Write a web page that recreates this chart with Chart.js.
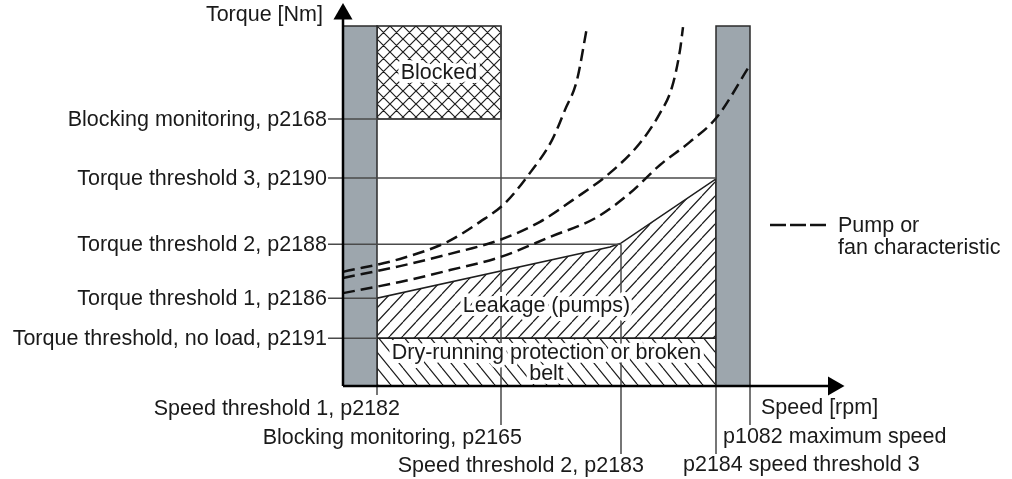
<!DOCTYPE html>
<html>
<head>
<meta charset="utf-8">
<script src="https://cdn.jsdelivr.net/npm/chart.js@4.4.1/dist/chart.umd.min.js"></script>
<style>
  html, body { margin: 0; padding: 0; background: #fff; }
  #wrap { width: 1012px; height: 479px; position: relative; }
</style>
</head>
<body>
<div id="wrap"><canvas id="chart"></canvas></div>
<script>
// speed: 0 = origin, ~100 = arrow tip; torque: 0 = origin, 100 = top of the limit bars
var speedLabels = ['Speed threshold 1, p2182', 'Blocking monitoring, p2165', 'Speed threshold 2, p2183',
                   'p2184 speed threshold 3', 'p1082 maximum speed'];
var speedValues = [6.8, 31.6, 55.6, 74.6, 81.4];

var torqueLabels = ['Blocking monitoring, p2168', 'Torque threshold 3, p2190', 'Torque threshold 2, p2188',
                    'Torque threshold 1, p2186', 'Torque threshold, no load, p2191'];
var torqueValues = [74.2, 57.8, 39.4, 24.4, 13.3];

var axisTitles = ['Torque [Nm]', 'Speed [rpm]'];
var regionLabels = ['Blocked', 'Leakage (pumps)', 'Dry-running protection or broken', 'belt'];
var legendLabels = ['Pump or', 'fan characteristic'];

// pump / fan characteristics
var pump1Speed  = [0, 11.4, 20.8, 27.4, 32.4, 37.4, 41.8, 44.4, 46.8, 48.8];
var pump1Torque = [31.7, 35.3, 40, 45.6, 50.8, 59.2, 68.3, 76.7, 85, 99.7];
var pump2Speed  = [0, 11.4, 21.4, 31.4, 39.4, 46, 53.4, 59.4, 63.4, 65.8, 67.4, 68];
var pump2Torque = [30, 33.3, 36.7, 40.6, 45.6, 51.7, 59.2, 67.5, 75.8, 83, 93.3, 99.7];
var pump3Speed  = [0, 11.4, 21.4, 31.4, 41.4, 50.8, 57.4, 63.4, 69.4, 74.8, 81.4];
var pump3Torque = [25.8, 28.9, 32.2, 35.8, 41.4, 46.9, 53.6, 61.4, 67.8, 74.7, 89.2];

// upper edge of the leakage area
var leakageSpeed  = [6.8, 53.4, 55.6, 74.6];
var leakageTorque = [24.4, 38.6, 39.7, 57.5];

var st1 = speedValues[0], blk = speedValues[1], st2 = speedValues[2], st3 = speedValues[3], vmax = speedValues[4];
var tBlk = torqueValues[0], t3 = torqueValues[1], t2 = torqueValues[2], t1 = torqueValues[3], t0 = torqueValues[4];
var tMax = 100;

function pts(xs, ys) {
  return xs.map(function (v, i) { return { x: v, y: ys[i] }; });
}

function hatch(w, h, dirs) {
  var c = document.createElement('canvas');
  c.width = w; c.height = h;
  var g = c.getContext('2d');
  g.strokeStyle = '#1e1e1e';
  g.lineWidth = 1.2;
  g.beginPath();
  dirs.forEach(function (d) {
    for (var k = -1; k <= 1; k++) {
      if (d === '/') { g.moveTo(k * w, h); g.lineTo(k * w + w, 0); }
      else { g.moveTo(k * w, 0); g.lineTo(k * w + w, h); }
    }
  });
  g.stroke();
  return g.createPattern(c, 'repeat');
}

function line(points, color, width, order, more) {
  var d = { data: points, borderColor: color, borderWidth: width, fill: false, tension: 0,
            pointRadius: 0, order: order };
  for (var k in more) d[k] = more[k];
  return d;
}

var grey = '#9da6ad', dark = '#1e1e1e', thin = '#4a4a4a';
var datasets = [];

// hatched areas
datasets.push(line(pts([st1, blk, blk, st1, st1], [tBlk, tBlk, tMax, tMax, tBlk]), dark, 1.5, 6,
  { fill: 'shape', backgroundColor: hatch(13, 13, ['/', '\\']) }));
datasets.push(line(pts([st1].concat(leakageSpeed, [st3, st1]), [t0].concat(leakageTorque, [t0, t0])), dark, 1.5, 6,
  { fill: 'shape', backgroundColor: hatch(13, 14, ['/']) }));
datasets.push(line(pts([st1, st3, st3, st1, st1], [0, 0, t0, t0, 0]), dark, 1.5, 6,
  { fill: 'shape', backgroundColor: hatch(13, 16, ['\\']) }));

// limit bars
datasets.push(line(pts([0, st1, st1, 0, 0], [0, 0, tMax, tMax, 0]), '#2b2b2b', 1.5, 5,
  { fill: 'shape', backgroundColor: grey }));
datasets.push(line(pts([st3, vmax, vmax, st3, st3], [0, 0, tMax, tMax, 0]), '#2b2b2b', 1.5, 5,
  { fill: 'shape', backgroundColor: grey }));

// threshold lines
var torqueEnds = [blk, st3, st2, st1, st1];
torqueValues.forEach(function (v, i) {
  datasets.push(line(pts([-3, torqueEnds[i]], [v, v]), thin, 1.5, 4));
});
var speedFrom = [0, tMax, t2, 0, 0];
var speedTo = [-2.5, -10.8, -18.9, -18.9, -10.8];
speedValues.forEach(function (v, i) {
  datasets.push(line(pts([v, v], [speedFrom[i], speedTo[i]]), thin, 1.5, 4));
});

// pump characteristics
[[pump1Speed, pump1Torque], [pump2Speed, pump2Torque], [pump3Speed, pump3Torque]].forEach(function (c) {
  datasets.push(line(pts(c[0], c[1]), '#111', 2.5, 3,
    { borderDash: [12, 6], cubicInterpolationMode: 'monotone' }));
});
datasets.push(line(pts([85.4, 96.8], [44.7, 44.7]), '#111', 2.5, 3, { borderDash: [16, 4] }));

// axes + arrow heads
datasets.push(line(pts([0, 0], [0, 103]), '#000', 2.5, 2));
datasets.push(line(pts([0, 98], [0, 0]), '#000', 2.5, 2));
datasets.push(line(pts([0], [103.3]), '#000', 0, 1,
  { pointRadius: 11, pointStyle: 'triangle', pointBackgroundColor: '#000', pointBorderWidth: 0, pointRotation: 0 }));
datasets.push(line(pts([98.1], [0]), '#000', 0, 1,
  { pointRadius: 11, pointStyle: 'triangle', pointBackgroundColor: '#000', pointBorderWidth: 0, pointRotation: 90 }));

var texts = {
  id: 'texts',
  afterDatasetsDraw: function (chart) {
    var c = chart.ctx, sx = chart.scales.x, sy = chart.scales.y;
    var ox = sx.getPixelForValue(0), oy = sy.getPixelForValue(0);
    function put(t, x, y, align, halo) {
      c.textAlign = align;
      y += 1;
      if (halo) {
        c.strokeStyle = '#fff';
        c.lineWidth = 8;
        c.lineJoin = 'round';
        c.strokeText(t, x, y);
      }
      c.fillText(t, x, y);
    }
    c.save();
    c.font = '21.5px "Liberation Sans", Arial, sans-serif';
    c.textBaseline = 'middle';
    c.fillStyle = '#1a1a1a';

    torqueLabels.forEach(function (t, i) {
      put(t, ox - 16, sy.getPixelForValue(torqueValues[i]), 'right');
    });
    put(axisTitles[0], ox - 20, 14, 'right');

    var px = speedValues.map(function (v) { return sx.getPixelForValue(v); });
    put(speedLabels[0], px[0] + 23, oy + 22, 'right');
    put(speedLabels[1], px[1] + 21, oy + 51, 'right');
    put(speedLabels[2], px[2] + 23, oy + 79, 'right');
    put(speedLabels[3], px[3] - 33, oy + 78, 'left');
    put(speedLabels[4], px[4] - 27, oy + 50, 'left');
    put(axisTitles[1], px[4] + 11, oy + 21, 'left');

    put(legendLabels[0], sx.getPixelForValue(99), sy.getPixelForValue(44.6), 'left');
    put(legendLabels[1], sx.getPixelForValue(99), sy.getPixelForValue(38.5), 'left');

    put(regionLabels[0], sx.getPixelForValue((st1 + blk) / 2), sy.getPixelForValue((tBlk + tMax) / 2), 'center', true);
    put(regionLabels[1], sx.getPixelForValue((st1 + st3) / 2), sy.getPixelForValue(22.5), 'center', true);
    put(regionLabels[2], sx.getPixelForValue((st1 + st3) / 2), sy.getPixelForValue(9.4), 'center', true);
    put(regionLabels[3], sx.getPixelForValue((st1 + st3) / 2), sy.getPixelForValue(3.6), 'center', true);
    c.restore();
  }
};

new Chart(document.getElementById('chart'), {
  type: 'line',
  data: { datasets: datasets },
  options: {
    responsive: true,
    maintainAspectRatio: false,
    animation: false,
    events: [],
    layout: { padding: 0, autoPadding: false },
    scales: {
      x: { type: 'linear', min: -68.6, max: 133.8, display: false },
      y: { type: 'linear', min: -25.83, max: 107.22, display: false }
    },
    plugins: { legend: { display: false }, tooltip: { enabled: false } }
  },
  plugins: [texts]
});
</script>
</body>
</html>
